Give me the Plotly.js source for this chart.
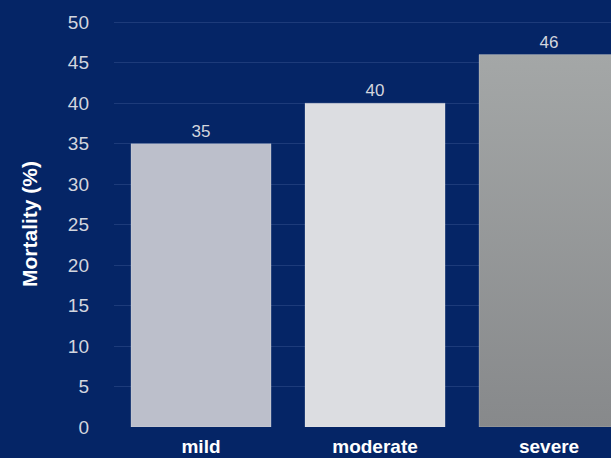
<!DOCTYPE html>
<html>
<head>
<meta charset="utf-8">
<script src="https://cdn.plot.ly/plotly-3.0.1.min.js"></script>
<style>
html,body{margin:0;padding:0;background:#052566;overflow:hidden;}
#chart{width:611px;height:458px;}
</style>
</head>
<body>
<div id="chart"></div>
<script>
const categories = ["mild", "moderate", "severe"];
const mortality = [35, 40, 46];
const barColors = ["#bcbfcb", "#dcdde1", "#979a9b"];
const yTicks = [0, 5, 10, 15, 20, 25, 30, 35, 40, 45, 50];

const trace = {
  type: "bar",
  x: categories,
  y: mortality,
  text: mortality.map(String),
  textposition: "outside",
  cliponaxis: false,
  textfont: {family: "Liberation Sans, Arial, sans-serif", size: 17, color: "#d3d6de"},
  marker: {color: barColors, line: {width: 1, color: "rgba(255,255,255,0.2)"}},
  hoverinfo: "none"
};

const layout = {
  width: 611, height: 458,
  paper_bgcolor: "#052566",
  plot_bgcolor: "#052566",
  margin: {l: 114, r: 0, t: 21, b: 31},
  bargap: 0.195,
  showlegend: false,
  font: {family: "Liberation Sans, Arial, sans-serif", color: "#d3d6de"},
  xaxis: {
    range: [-0.5, 2.356],
    showgrid: false, zeroline: false, showline: false,
    ticks: "", ticklabelstandoff: 6,
    tickfont: {size: 19, color: "#ffffff", weight: "bold"}
  },
  yaxis: {
    range: [0, 50.15],
    tickvals: yTicks,
    showgrid: true, gridcolor: "rgba(45,75,135,0.6)", gridwidth: 1,
    zeroline: false, showline: false,
    ticks: "", ticklabelstandoff: 24,
    tickfont: {size: 19, color: "#d3d6de"},
    title: {text: "Mortality (%)", font: {size: 21, color: "#ffffff", weight: "bold"}, standoff: 24}
  }
};

Plotly.newPlot("chart", [trace], layout, {displayModeBar: false, staticPlot: true}).then(function(gd){
  const svg = gd.querySelector(".main-svg");
  const ns = "http://www.w3.org/2000/svg";
  let defs = svg.querySelector("defs");
  if (!defs) { defs = document.createElementNS(ns, "defs"); svg.insertBefore(defs, svg.firstChild); }
  const lg = document.createElementNS(ns, "linearGradient");
  lg.setAttribute("id", "severeGrad");
  lg.setAttribute("x1", "0"); lg.setAttribute("y1", "0");
  lg.setAttribute("x2", "0"); lg.setAttribute("y2", "1");
  [["0", "#a4a7a7"], ["1", "#87898b"]].forEach(function(s){
    const st = document.createElementNS(ns, "stop");
    st.setAttribute("offset", s[0]); st.setAttribute("stop-color", s[1]);
    lg.appendChild(st);
  });
  defs.appendChild(lg);
  const paths = gd.querySelectorAll(".barlayer .point path");
  if (paths.length === 3) { paths[2].style.fill = "url(#severeGrad)"; }
});
</script>
</body>
</html>
